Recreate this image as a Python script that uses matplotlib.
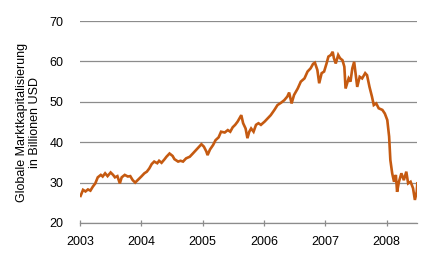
import numpy as np
import matplotlib
matplotlib.use('Agg')
import matplotlib.pyplot as plt

# global market capitalisation (decimal year, trillion USD)
years = [2003.01, 2003.05, 2003.09, 2003.13, 2003.17, 2003.21, 2003.25, 2003.29,
         2003.34, 2003.37, 2003.41, 2003.45, 2003.50, 2003.54, 2003.57, 2003.61,
         2003.65, 2003.68, 2003.73, 2003.78, 2003.82, 2003.86, 2003.90, 2003.94,
         2004.00, 2004.05, 2004.09, 2004.13, 2004.17, 2004.21, 2004.26, 2004.29,
         2004.33, 2004.38, 2004.41, 2004.46, 2004.51, 2004.54, 2004.60, 2004.64,
         2004.68, 2004.73, 2004.79, 2004.84, 2004.90, 2004.94, 2004.98, 2005.02,
         2005.06, 2005.08, 2005.12, 2005.17, 2005.21, 2005.26, 2005.30, 2005.36,
         2005.41, 2005.45, 2005.49, 2005.53, 2005.57, 2005.63, 2005.66, 2005.70,
         2005.73, 2005.76, 2005.79, 2005.83, 2005.87, 2005.91, 2005.95, 2006.01,
         2006.06, 2006.11, 2006.17, 2006.22, 2006.28, 2006.33, 2006.38, 2006.41,
         2006.45, 2006.49, 2006.55, 2006.60, 2006.66, 2006.71, 2006.76, 2006.80,
         2006.83, 2006.87, 2006.90, 2006.94, 2006.98, 2007.02, 2007.05, 2007.09,
         2007.12, 2007.14, 2007.17, 2007.21, 2007.24, 2007.28, 2007.31, 2007.33,
         2007.38, 2007.41, 2007.44, 2007.47, 2007.50, 2007.52, 2007.56, 2007.60,
         2007.65, 2007.68, 2007.72, 2007.76, 2007.79, 2007.83, 2007.87, 2007.93,
         2007.97, 2008.01, 2008.04, 2008.06, 2008.09, 2008.12, 2008.15, 2008.17,
         2008.20, 2008.24, 2008.28, 2008.32, 2008.35, 2008.39, 2008.43, 2008.46,
         2008.49, 2008.50]
values = [26.7, 28.2, 27.8, 28.3, 28.0, 29.0, 29.8, 31.3,
          31.9, 31.5, 32.3, 31.6, 32.5, 31.9, 31.3, 31.6,
          29.8, 31.3, 31.9, 31.5, 31.6, 30.6, 30.0, 30.6,
          31.5, 32.3, 32.7, 33.5, 34.6, 35.2, 34.8, 35.4,
          34.9, 35.8, 36.4, 37.2, 36.6, 35.8, 35.2, 35.4,
          35.2, 36.0, 36.4, 37.2, 38.2, 38.9, 39.5, 38.9,
          37.7, 36.8, 38.2, 39.3, 40.5, 41.2, 42.6, 42.4,
          43.0, 42.6, 43.7, 44.3, 45.1, 46.7, 44.7, 43.4,
          41.0, 42.6, 43.4, 42.6, 44.3, 44.7, 44.3, 45.1,
          45.9, 46.7, 48.0, 49.2, 49.8, 50.4, 51.3, 52.3,
          49.6, 51.7, 53.3, 55.0, 55.8, 57.5, 58.3, 59.4,
          59.7, 57.9, 54.6, 57.1, 57.5, 59.5, 61.2, 61.6,
          62.4, 60.8, 59.5, 61.6, 60.8, 60.3, 58.7, 53.3,
          55.8, 55.0, 58.3, 59.9, 56.2, 53.7, 56.2, 55.8,
          57.1, 56.6, 53.7, 51.3, 49.2, 49.6, 48.4, 48.0,
          47.1, 45.5, 41.4, 35.6, 32.3, 30.2, 31.9, 27.7,
          30.2, 32.3, 30.6, 32.7, 29.8, 30.2, 28.6, 25.7,
          27.7, 29.8]

yticks = [20, 30, 40, 50, 60, 70]
xticks = [2003, 2004, 2005, 2006, 2007, 2008]

plt.rcParams['font.family'] = ['Liberation Sans', 'DejaVu Sans']

fig = plt.figure(figsize=(4.37, 2.67), dpi=100)
ax = fig.add_axes([0.183, 0.165, 0.772, 0.756])

ax.plot(years, values, color='#C55A11', linewidth=1.9, solid_joinstyle='miter')

ax.set_xlim(2003, 2008.5)
ax.set_ylim(20, 70)
ax.set_yticks(yticks)
ax.set_xticks(xticks)
ax.set_xticklabels([str(t) for t in xticks])

# horizontal grid only
ax.grid(axis='y', color='#8c8c8c', linewidth=0.9)
ax.set_axisbelow(True)
for s in ['top', 'right', 'left']:
    ax.spines[s].set_visible(False)
ax.spines['bottom'].set_color('#8c8c8c')
ax.spines['bottom'].set_linewidth(0.9)

ax.tick_params(axis='y', length=0, pad=12, labelsize=9)
ax.tick_params(axis='x', direction='inout', length=5, width=0.9,
               color='#8c8c8c', pad=7, labelsize=9)

ax.set_ylabel('Globale Marktkapitalisierung\nin Billionen USD', fontsize=9,
              linespacing=1.1, labelpad=6)

plt.savefig('out.png', dpi=100)
